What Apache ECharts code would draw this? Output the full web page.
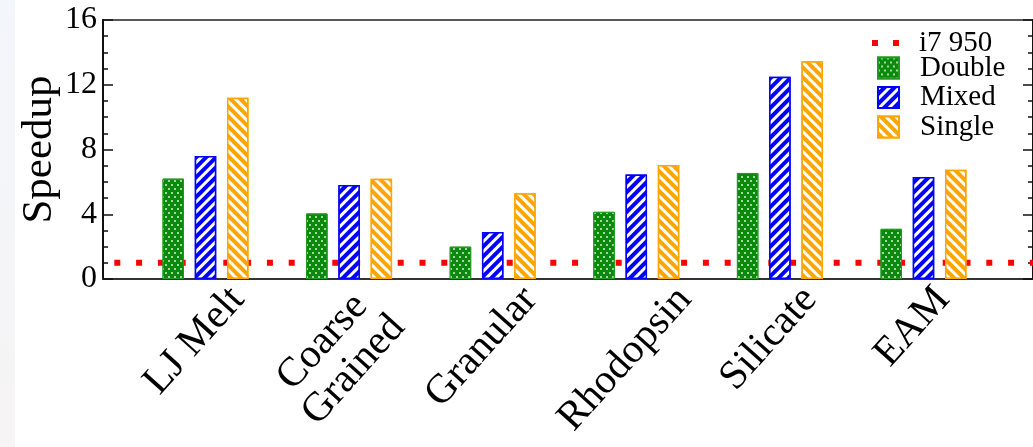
<!DOCTYPE html>
<html>
<head>
<meta charset="utf-8">
<script src="https://cdn.jsdelivr.net/npm/echarts@6/dist/echarts.min.js"></script>
<style>
  html, body { margin: 0; padding: 0; background: #ffffff; }
  #chart { width: 1033px; height: 447px; }
</style>
</head>
<body>
<div id="chart"></div>
<script>
// Benchmarks and measured speedups
const categories = ['LJ Melt', 'Coarse\nGrained', 'Granular', 'Rhodopsin', 'Silicate', 'EAM'];
const doubleSpeedup = [6.2, 4.05, 2.0, 4.15, 6.55, 3.1];
const mixedSpeedup  = [7.6, 5.8, 2.9, 6.45, 12.5, 6.3];
const singleSpeedup = [11.2, 6.2, 5.3, 7.05, 13.45, 6.75];
const cpuBaseline = 1;           // i7 950 reference level
const yMin = 0, yMax = 16, yStep = 4;

const SERIF = '"Liberation Serif", "DejaVu Serif", serif';
const LABEL_FONT = 41, LABEL_LH = 42, LABEL_ROTATE = 48;

// Rotated category labels: centre each label horizontally on its group
// and hang it from a common top line, whatever its length.
// Horizontal padding moves the text along its baseline; with a top
// vertical alignment the top padding moves it across the baseline.
const measure = document.createElement('canvas').getContext('2d');
measure.font = LABEL_FONT + 'px ' + SERIF;
function categoryItem(name) {
  const th = LABEL_ROTATE * Math.PI / 180, c = Math.cos(th), s = Math.sin(th);
  const lines = name.split('\n');
  const w = Math.max.apply(null, lines.map(l => measure.measureText(l).width));
  const h = lines.length * LABEL_LH;
  const boxH = w * s + h * c;
  const sx = -11, sy = boxH / 2;
  const a = sx * c - sy * s;   // shift along the text direction
  const b = sx * s + sy * c;   // shift across the text direction
  const top = Math.max(0, b - h / 2);
  return {
    value: name,
    textStyle: {
      align: 'center', verticalAlign: 'top',
      padding: [top, a < 0 ? -2 * a : 0, 0, a > 0 ? 2 * a : 0]
    }
  };
}

const chart = echarts.init(document.getElementById('chart'), null, { renderer: 'canvas' });

const frameGrid = { left: 103, right: 0, top: 20, bottom: 168 };
const barGrid = { left: 133.7, right: 37.7, top: 20, bottom: 168 };

const yCommon = {
  type: 'value', min: yMin, max: yMax, interval: yStep,
  splitLine: { show: false },
  axisLine: { show: true, lineStyle: { color: '#111', width: 2 } },
  axisTick: { show: true, inside: true, length: 10, lineStyle: { color: '#111', width: 1.5 } },
  minorTick: { show: true, splitNumber: 4, length: 5, lineStyle: { color: '#111', width: 1.5 } },
  minorSplitLine: { show: false }
};

const option = {
  animation: false,
  backgroundColor: '#ffffff',
  graphic: [{
    type: 'rect', left: 0, top: 0, z: -10, silent: true,
    shape: { width: 15, height: 447 },
    style: { fill: new echarts.graphic.LinearGradient(0, 0, 0, 1, [
      { offset: 0, color: '#f3f6fb' }, { offset: 1, color: '#f6f4f4' }
    ]) }
  }],
  grid: [
    Object.assign({ show: true, borderColor: '#222', borderWidth: 1.5, backgroundColor: 'transparent',
                    outerBoundsMode: 'none', containLabel: false }, frameGrid),
    Object.assign({ outerBoundsMode: 'none', containLabel: false }, barGrid)
  ],
  legend: [{
    data: [{ name: 'i7 950', icon: 'path://M0,0h6v6h-6zM21,0h6v6h-6z', itemStyle: { color: '#ff0000' } }],
    orient: 'vertical', left: 872, top: 28.5, padding: 0,
    itemWidth: 27, itemHeight: 6, selectedMode: false,
    textStyle: { fontFamily: SERIF, fontSize: 29, lineHeight: 25, color: '#000', padding: [0, 0, 0, 15] }
  }, {
    data: ['Double', 'Mixed', 'Single'], orient: 'vertical', left: 877, top: 53.5, padding: 0,
    icon: 'rect', itemWidth: 21, itemHeight: 21, itemGap: 0.5, selectedMode: false,
    textStyle: { fontFamily: SERIF, fontSize: 29, lineHeight: 25, color: '#000', padding: [0, 0, 0, 16] }
  }],
  xAxis: [{
    type: 'value', gridIndex: 0, min: 0, max: 1,
    axisLine: { show: true, onZero: false, lineStyle: { color: '#333', width: 2 } },
    axisTick: { show: false }, axisLabel: { show: false }, splitLine: { show: false }
  }, {
    type: 'category', gridIndex: 1, data: categories.map(categoryItem),
    axisLine: { show: false }, axisTick: { show: false }, splitLine: { show: false },
    axisLabel: {
      interval: 0, rotate: LABEL_ROTATE, margin: 0, align: 'center', verticalAlign: 'top',
      hideOverlap: false,
      fontFamily: SERIF, fontSize: LABEL_FONT, lineHeight: LABEL_LH, color: '#000'
    }
  }],
  yAxis: [
    Object.assign({}, yCommon, {
      gridIndex: 0, position: 'left',
      name: 'Speedup', nameLocation: 'middle', nameGap: 42, nameMoveOverlap: false,
      nameTextStyle: { fontFamily: SERIF, fontSize: 43, color: '#000' },
      axisLabel: { fontFamily: SERIF, fontSize: 32, color: '#000', margin: 6 }
    }),
    Object.assign({}, yCommon, {
      gridIndex: 0, position: 'right', axisLabel: { show: false }
    }),
    { type: 'value', gridIndex: 1, min: yMin, max: yMax, interval: yStep, show: false }
  ],
  series: [{
    name: 'i7 950', type: 'line', xAxisIndex: 0, yAxisIndex: 0, z: 1,
    symbol: 'none', silent: true,
    data: [[0, cpuBaseline], [1, cpuBaseline]],
    itemStyle: { color: '#ff0000' },
    lineStyle: { color: '#ff0000', width: 6, type: [6, 15.8], dashOffset: 10.5, cap: 'butt' }
  }, {
    name: 'Double', type: 'bar', xAxisIndex: 1, yAxisIndex: 2, z: 3,
    barWidth: 21.5, barGap: '50%', data: doubleSpeedup,
    itemStyle: {
      color: '#0a8a0a', borderColor: '#1f9a1f', borderWidth: 1,
      decal: { symbol: 'circle', symbolSize: 1, color: 'rgba(255,255,255,0.85)',
               dashArrayX: [[1.3, 3.2], [0, 2.25, 1.3, 0.95]], dashArrayY: [1.3, 1.2] }
    }
  }, {
    name: 'Mixed', type: 'bar', xAxisIndex: 1, yAxisIndex: 2, z: 3,
    barWidth: 21.5, barGap: '50%', data: mixedSpeedup,
    itemStyle: {
      color: '#0000ff', borderColor: '#0000ff', borderWidth: 1.5,
      decal: { symbol: 'rect', symbolSize: 1, color: '#ffffff',
               dashArrayX: [1, 0], dashArrayY: [2.6, 3.2], rotation: -Math.PI / 4 }
    }
  }, {
    name: 'Single', type: 'bar', xAxisIndex: 1, yAxisIndex: 2, z: 3,
    barWidth: 21.5, barGap: '50%', data: singleSpeedup,
    itemStyle: {
      color: '#ffa500', borderColor: '#ffa500', borderWidth: 1.5,
      decal: { symbol: 'rect', symbolSize: 1, color: '#ffffff',
               dashArrayX: [1, 0], dashArrayY: [2.6, 3.2], rotation: Math.PI / 4 }
    }
  }]
};

chart.setOption(option);
</script>
</body>
</html>
